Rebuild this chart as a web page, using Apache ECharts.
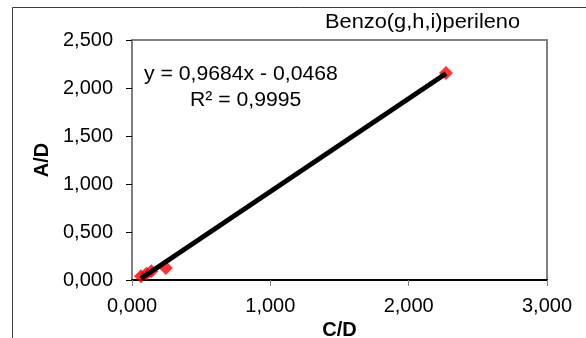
<!DOCTYPE html>
<html>
<head>
<meta charset="utf-8">
<script src="https://cdn.jsdelivr.net/npm/echarts@6/dist/echarts.min.js"></script>
<style>
  html, body { margin: 0; padding: 0; background: #fff; }
  #chart { width: 586px; height: 338px; }
</style>
</head>
<body>
<div id="chart"></div>
<script>
// Calibration points (ratio of concentrations vs ratio of areas)
const cdValues = [0.065, 0.105, 0.140, 0.245, 2.270];
const adValues = [0.040, 0.065, 0.090, 0.125, 2.155];

// Linear fit reported on the chart
const slope = 0.9684;
const intercept = -0.0468;
const rSquared = 0.9995;

const chartTitle = 'Benzo(g,h,i)perileno';
const xAxisName = 'C/D';
const yAxisName = 'A/D';
const xTicks = [0, 1, 2, 3];
const yTicks = [0, 0.5, 1, 1.5, 2, 2.5];

const fmt = v => v.toFixed(3).replace('.', ',');
const fmt4 = v => Math.abs(v).toFixed(4).replace('.', ',');

const points = cdValues.map((x, i) => [x, adValues[i]]);
const xMin = Math.min(...cdValues);
const xMax = Math.max(...cdValues);
const fitLine = [[xMin, slope * xMin + intercept], [xMax, slope * xMax + intercept]];

const equation = 'y = ' + fmt4(slope) + 'x ' + (intercept < 0 ? '- ' : '+ ') + fmt4(intercept);
const r2Text = 'R² = ' + fmt4(rSquared);

const chart = echarts.init(document.getElementById('chart'), null, { renderer: 'canvas' });

const textFont = '"Liberation Sans", Arial, sans-serif';

chart.setOption({
  animation: false,
  backgroundColor: '#ffffff',
  grid: {
    left: 132, top: 40, right: 39, bottom: 58,
    containLabel: false, outerBoundsMode: 'none',
    show: true, borderColor: '#808080', borderWidth: 2, backgroundColor: 'transparent'
  },
  xAxis: {
    type: 'value',
    min: xTicks[0], max: xTicks[xTicks.length - 1], interval: 1,
    name: xAxisName, nameLocation: 'middle', nameGap: 33,
    nameTextStyle: { fontFamily: textFont, fontWeight: 'bold', fontSize: 20, color: '#000' },
    axisLine: { show: true, onZero: false, lineStyle: { color: '#000', width: 2 } },
    axisTick: { show: true, inside: false, length: 6, lineStyle: { color: '#808080', width: 1 } },
    axisLabel: { formatter: fmt, fontFamily: textFont, fontSize: 20, color: '#000', margin: 16 },
    splitLine: { show: false }
  },
  yAxis: {
    type: 'value',
    min: yTicks[0], max: yTicks[yTicks.length - 1], interval: 0.5,
    name: yAxisName, nameLocation: 'middle', nameGap: 76, nameRotate: 90,
    nameTextStyle: { fontFamily: textFont, fontWeight: 'bold', fontSize: 20, color: '#000' },
    axisLine: { show: true, onZero: false, lineStyle: { color: '#808080', width: 2 } },
    axisTick: { show: true, inside: false, length: 6, lineStyle: { color: '#000', width: 1 } },
    axisLabel: { formatter: fmt, fontFamily: textFont, fontSize: 20, color: '#000', margin: 19 },
    splitLine: { show: false }
  },
  series: [
    {
      type: 'scatter',
      data: points,
      symbol: 'diamond',
      symbolSize: 14,
      itemStyle: { color: '#ff0000' },
      z: 2
    },
    {
      type: 'line',
      data: fitLine,
      symbol: 'none',
      lineStyle: { color: '#000', width: 5 },
      z: 3
    }
  ],
  graphic: [
    {
      type: 'rect', left: 12, top: 7, z: -10, silent: true,
      shape: { width: 600, height: 360 },
      style: { fill: 'transparent', stroke: '#3a3a3a', lineWidth: 1 }
    },
    {
      type: 'text', x: 325, y: 12, scaleX: 1.09, z: 10,
      style: { text: chartTitle, font: '20px ' + textFont, fill: '#000' }
    },
    {
      type: 'text', x: 144, y: 64, scaleX: 1.06, z: 10,
      style: { text: equation, font: '20px ' + textFont, fill: '#000' }
    },
    {
      type: 'text', x: 190, y: 90, scaleX: 1.06, z: 10,
      style: { text: r2Text, font: '20px ' + textFont, fill: '#000' }
    }
  ]
});
</script>
</body>
</html>
